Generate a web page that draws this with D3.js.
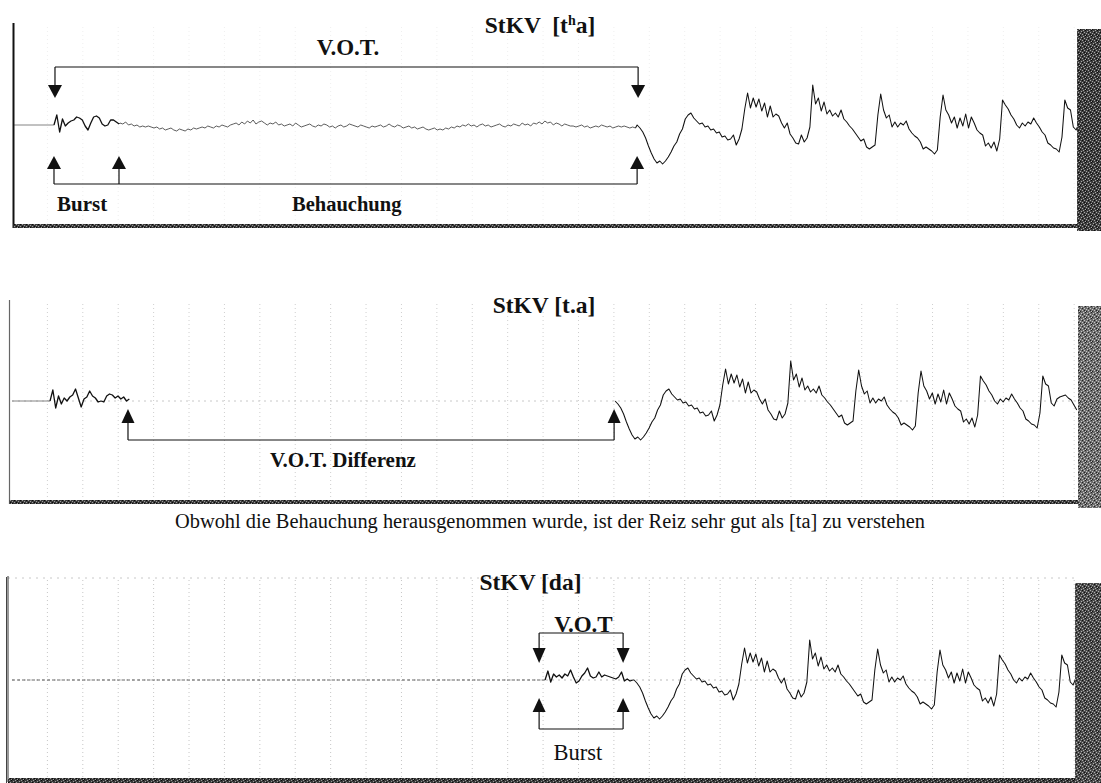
<!DOCTYPE html>
<html><head><meta charset="utf-8">
<script src="https://cdn.jsdelivr.net/npm/d3@7/dist/d3.min.js"></script>
<style>
html,body{margin:0;padding:0;background:#fff;}
svg{display:block;}
text{font-family:"Liberation Serif","Times New Roman",serif;fill:#111;}
</style></head><body>
<svg id="chart" width="1101" height="783"></svg>
<script>
// ---------------- DATA ----------------
const SAMPLE_MS = 0.4;            // sampling step of the read-off waveform values (ms)
const TIME_MAX = 150.4;           // visible time span of each panel (ms)

// vowel [a] (periodic part), amplitude in arbitrary units, starting at vowel onset
const vowelAmp = [0,-3,-7,-13,-21,-28,-34,-38,-36,-39,-36,-32,-27,-21,-17,-9,-4,6,10,12,
  7,4,1,2,-2,-1,-5,-4,-8,-7,-12,-11,-15,-14,-10,-20,-14,-4,16,32,
  17,27,18,26,14,22,8,19,8,11,9,2,-3,2,-9,-13,-18,-19,-10,-17,-13,-2,40,
  21,27,14,23,11,15,9,12,8,15,6,3,-1,-4,-8,-12,-16,-14,-22,-24,-22,-20,10,31,
  15,7,10,-2,3,-2,2,0,4,-4,-8,-11,-13,-17,-24,-22,-24,-26,-29,-25,8,30,
  15,10,2,8,-3,7,-1,11,-3,8,2,-5,-8,-10,-21,-18,-23,-17,-26,-14,25,
  20,16,10,6,0,-3,2,-1,3,1,7,2,-2,-7,-10,-18,-20,-23,-24,-27,-12,25,
  17,15,-2,-5,2,4,5,6,3,1,-4,-9];

// [tʰa]: burst and aspiration noise
const burst1 = [0,10,-7,6,-1,2,4,5,8,7,5,-1,-5,2,8,9,7,1,-1,0,5,5,3,1];
const aspiration1 = [2,1,3,0,1,-1,0,-2,-1,-2,-1,
  -2,-3,-2,-4,-3,-5,-4,-3,-5,-6,-4,-5,-6,-4,-5,-3,-4,-3,
  -2,-3,-1,-2,-3,-1,-2,0,-1,-2,0,1,
  2,0,3,1,4,2,5,1,3,4,2,0,2,1,3,0,1,-1,
  0,1,-1,2,0,-2,-1,0,1,-1,-2,0,-1,1,0,-2,-1,-3,-1,0,-2,-1,1,0,-1,-2,0,-1,-2,-3,-1,
  -2,-1,0,-2,-1,1,-1,-2,0,-1,-3,-2,-1,-3,-2,-4,-3,-2,-4,-5,-4,-3,-5,
  -4,-5,-3,-4,-2,-3,-1,-2,
  0,-1,1,-1,0,-2,0,1,-1,0,-2,-1,0,1,-1,-2,0,-1,1,0,-1,2,0,1,-1,2,1,
  3,1,4,2,3,0,2,1,-1,1,0,-1,
  -1,-2,-1,0,-2,-1,-3,-2,-1,-2,0,-1,-2,-1,-3,-2,-1,-2,-1,-2,-3,-2,-3];
// [t.a]: burst only (aspiration removed)
const burst2 = [0,11,-7,5,-3,3,0,4,6,12,3,-6,2,4,10,5,3,-1,0,-1,5,7,6,3,5,2,4,0,2];
// [da]: burst
const burst3 = [0,9,-2,6,3,5,2,6,4,10,3,-3,-1,4,7,12,4,2,3,8,3,5,4,3,2,1,3,8,-1,1,-1,0];

// event times (ms)
const events1 = {silence: 0.3, burst: 5.93, aspiration: 15.25, vowel: 88.28};
const events2 = {silence: 0.0, burst: 5.37, vowel: 85.17};
const events3 = {silence: 0.0, burst: 75.28, vowel: 87.85};

// annotation times (ms)
const vot1 = [6.07, 88.42];            // V.O.T. bracket
const burstArrows1 = [5.93, 15.11, 88.28];
const votDiff2 = [16.38, 85.03];
const vot3 = [74.44, 86.30];

const titles = ["StKV  [t", "StKV [t.a]", "StKV [da]"];
const labels1 = ["V.O.T.", "Burst", "Behauchung"];
const label2 = "V.O.T. Differenz";
const labels3 = ["V.O.T", "Burst"];
const caption = "Obwohl die Behauchung herausgenommen wurde, ist der Reiz sehr gut als [ta] zu verstehen";

// ---------------- DRAW ----------------
const svg = d3.select("#chart");
const x = d3.scaleLinear().domain([0, TIME_MAX]).range([12, 1077]);
const gridTimes = d3.range(5, TIME_MAX, 5);

const defs = svg.append("defs");
function texture(id, base, light, dark) {
  const p = defs.append("pattern").attr("id", id).attr("width", 6).attr("height", 6)
    .attr("patternUnits", "userSpaceOnUse");
  p.append("rect").attr("width", 6).attr("height", 6).attr("fill", base);
  [[1,1],[4,2],[2,4],[0,3],[5,5],[3,0]].forEach(([a,b]) =>
    p.append("rect").attr("x", a).attr("y", b).attr("width", 1).attr("height", 1).attr("fill", light));
  [[2,2],[5,0],[0,5],[4,4]].forEach(([a,b]) =>
    p.append("rect").attr("x", a).attr("y", b).attr("width", 1).attr("height", 1).attr("fill", dark));
}
texture("tex1", "#3e3e3e", "#a8a8a8", "#0c0c0c");
texture("tex2", "#6e6e6e", "#c8c8c8", "#222");
texture("tex3", "#4c4c4c", "#b0b0b0", "#111");
texture("strip", "#3a3a3a", "#9a9a9a", "#0a0a0a");

const panels = [
  {base:125, top:25, bottom:224, left:13.5, right:1077, barTop:29, barBottom:231, barX:1077, tex:"tex1",
   gridColor:"#efefef", stripY:224, leftColor:"#111", leftW:2},
  {base:401, top:302, bottom:500, left:9.5, right:1078, barTop:306, barBottom:508, barX:1078, tex:"tex2",
   gridColor:"#cfcfcf", stripY:500, leftColor:"#666", leftW:1.2},
  {base:680, top:578, bottom:778, left:8, right:1075, barTop:583, barBottom:783, barX:1075, tex:"tex3",
   gridColor:"#c6c6c6", stripY:778, leftColor:"#333", leftW:1}
];

function seg(t0, vals) { return vals.map((a, i) => ({t: t0 + i * SAMPLE_MS, a})); }
function flat(t0, t1) { return [{t: t0, a: 0}, {t: t1, a: 0}]; }

// segments for each panel: [points, style]
const panelSegments = [
  [[flat(events1.silence, events1.burst), "silence"],
   [seg(events1.burst, burst1), "burst"],
   [seg(events1.aspiration, aspiration1), "asp"],
   [seg(events1.vowel, vowelAmp), "vowel"]],
  [[flat(events2.silence, events2.burst), "silence"],
   [seg(events2.burst, burst2), "burst"],
   [seg(events2.vowel, vowelAmp), "vowel-start"]],
  [[flat(events3.silence, events3.burst), "silence-dash"],
   [seg(events3.burst, burst3), "burst"],
   [seg(events3.vowel, vowelAmp), "vowel"]]
];
const segStyle = {
  "silence": {stroke:"#777", w:0.9, dash:null},
  "silence-dash": {stroke:"#555", w:0.9, dash:"3,2"},
  "burst": {stroke:"#111", w:1.3, dash:null},
  "asp": {stroke:"#333", w:0.8, dash:null},
  "vowel": {stroke:"#111", w:1.05, dash:null},
  "vowel-start": {stroke:"#111", w:1.05, dash:null}
};

panels.forEach((P, pi) => {
  const g = svg.append("g");
  const y = d3.scaleLinear().domain([-50, 50]).range([P.base + 50, P.base - 50]);

  // grid
  g.append("g").selectAll("line").data(gridTimes).join("line")
    .attr("x1", d => x(d)).attr("x2", d => x(d))
    .attr("y1", P.top + 2).attr("y2", P.bottom)
    .attr("stroke", P.gridColor).attr("stroke-width", 1).attr("stroke-dasharray", "1,3");
  if (pi > 0) {
    g.append("line").attr("x1", x(0)).attr("x2", P.right).attr("y1", y(0)).attr("y2", y(0))
      .attr("stroke", pi === 1 ? "#c8c8c8" : "#bbb").attr("stroke-dasharray", "2,4");
  }
  if (pi === 2) {
    g.append("line").attr("x1", P.left).attr("x2", P.right).attr("y1", P.top).attr("y2", P.top)
      .attr("stroke", "#c8c8c8").attr("stroke-dasharray", "2,5");
  }

  // clip
  const cid = "clip" + pi;
  defs.append("clipPath").attr("id", cid).append("rect")
    .attr("x", P.left).attr("y", P.top - 10).attr("width", P.barX - P.left).attr("height", P.bottom - P.top + 10);

  const line = d3.line().x(d => x(d.t)).y(d => y(d.a));
  const sg = g.append("g").attr("clip-path", `url(#${cid})`);
  let prev = null;
  panelSegments[pi].forEach(([pts, st]) => {
    let data = pts;
    if (prev && st !== "vowel-start") data = [prev].concat(pts);
    const s = segStyle[st];
    sg.append("path").attr("d", line(data)).attr("fill", "none")
      .attr("stroke", s.stroke).attr("stroke-width", s.w)
      .attr("stroke-linejoin", "round")
      .attr("stroke-dasharray", s.dash);
    prev = pts[pts.length - 1];
  });

  // frame: left line, bottom strip, right bar
  if (pi === 2) {
    g.append("line").attr("x1", 6.5).attr("x2", 6.5).attr("y1", P.top - 1).attr("y2", 783)
      .attr("stroke", "#444").attr("stroke-width", 1);
  }
  g.append("line").attr("x1", P.left).attr("x2", P.left).attr("y1", P.top - 2).attr("y2", P.stripY + 4)
    .attr("stroke", P.leftColor).attr("stroke-width", P.leftW);
  g.append("rect").attr("x", P.left).attr("y", P.stripY).attr("width", P.barX - P.left).attr("height", pi === 2 ? 5 : 4)
    .attr("fill", "url(#strip)");
  g.append("rect").attr("x", P.barX).attr("y", P.barTop).attr("width", 1101 - P.barX).attr("height", P.barBottom - P.barTop)
    .attr("fill", `url(#${P.tex})`);
});

// --------- annotations ---------
const A = svg.append("g").attr("stroke", "#111").attr("fill", "#111");
function arrowHead(xp, tipY, dir, w, h) { // dir: 1 = pointing down, -1 = pointing up
  const p = d3.path();
  p.moveTo(xp, tipY);
  p.lineTo(xp - w / 2, tipY - dir * h);
  p.lineTo(xp + w / 2, tipY - dir * h);
  p.closePath();
  A.append("path").attr("d", p.toString()).attr("stroke", "none");
}
function vline(xp, y1, y2) { A.append("line").attr("x1", xp).attr("x2", xp).attr("y1", y1).attr("y2", y2).attr("stroke-width", 1.2); }
function hline(x1, x2, yp) { A.append("line").attr("x1", x1).attr("x2", x2).attr("y1", yp).attr("y2", yp).attr("stroke-width", 1.2); }

// panel 1
{
  const b = panels[0].base;
  const [xa, xb] = vot1.map(x);
  hline(xa, xb, b - 58);
  [xa, xb].forEach(xp => { vline(xp, b - 58, b - 38); arrowHead(xp, b - 27, 1, 14, 13); });
  const xs = burstArrows1.map(x);
  hline(xs[0], xs[2], b + 59);
  xs.forEach(xp => { vline(xp, b + 44, b + 59); arrowHead(xp, b + 31, -1, 14, 13); });
}
// panel 2
{
  const b = panels[1].base;
  const [xa, xb] = votDiff2.map(x);
  hline(xa, xb, b + 39);
  [xa, xb].forEach(xp => { vline(xp, b + 20, b + 39); arrowHead(xp, b + 8, -1, 13, 14); });
}
// panel 3
{
  const b = panels[2].base;
  const [xa, xb] = vot3.map(x);
  hline(xa, xb, b - 47);
  [xa, xb].forEach(xp => { vline(xp, b - 47, b - 31); arrowHead(xp, b - 17, 1, 13, 15); });
  hline(xa, xb, b + 49);
  [xa, xb].forEach(xp => { vline(xp, b + 31, b + 49); arrowHead(xp, b + 18, -1, 13, 14); });
}

// --------- texts ---------
const T = svg.append("g");
function txt(s, xp, yp, size, weight, anchor) {
  return T.append("text").attr("x", xp).attr("y", yp).attr("font-size", size)
    .attr("font-weight", weight).attr("text-anchor", anchor || "start").style("white-space", "pre").text(s);
}
// titles
{
  const t1 = T.append("text").attr("x", 540).attr("y", 33).attr("font-size", 23.5).attr("font-weight", "bold")
    .attr("text-anchor", "middle").style("white-space", "pre");
  t1.append("tspan").text(titles[0]);
  t1.append("tspan").attr("font-size", 14).attr("dy", -8).text("h");
  t1.append("tspan").attr("dy", 8).text("a]");
}
txt(titles[1], 544, 313, 23.5, "bold", "middle");
txt(titles[2], 530.5, 590, 23.5, "bold", "middle");
// panel 1 labels
txt(labels1[0], 348, 55, 23, "bold", "middle");
txt(labels1[1], 57, 211, 21, "bold");
txt(labels1[2], 292, 211, 20.5, "bold");
// panel 2 label
txt(label2, 343, 467, 21, "bold", "middle");
// panel 3 labels
txt(labels3[0], 583.5, 632, 23, "bold", "middle");
txt(labels3[1], 578, 760, 22.5, "normal", "middle");
// caption
T.append("text").attr("x", 175).attr("y", 528).attr("font-size", 20)
  .attr("textLength", 750).attr("lengthAdjust", "spacingAndGlyphs").text(caption);
</script>
</body></html>
